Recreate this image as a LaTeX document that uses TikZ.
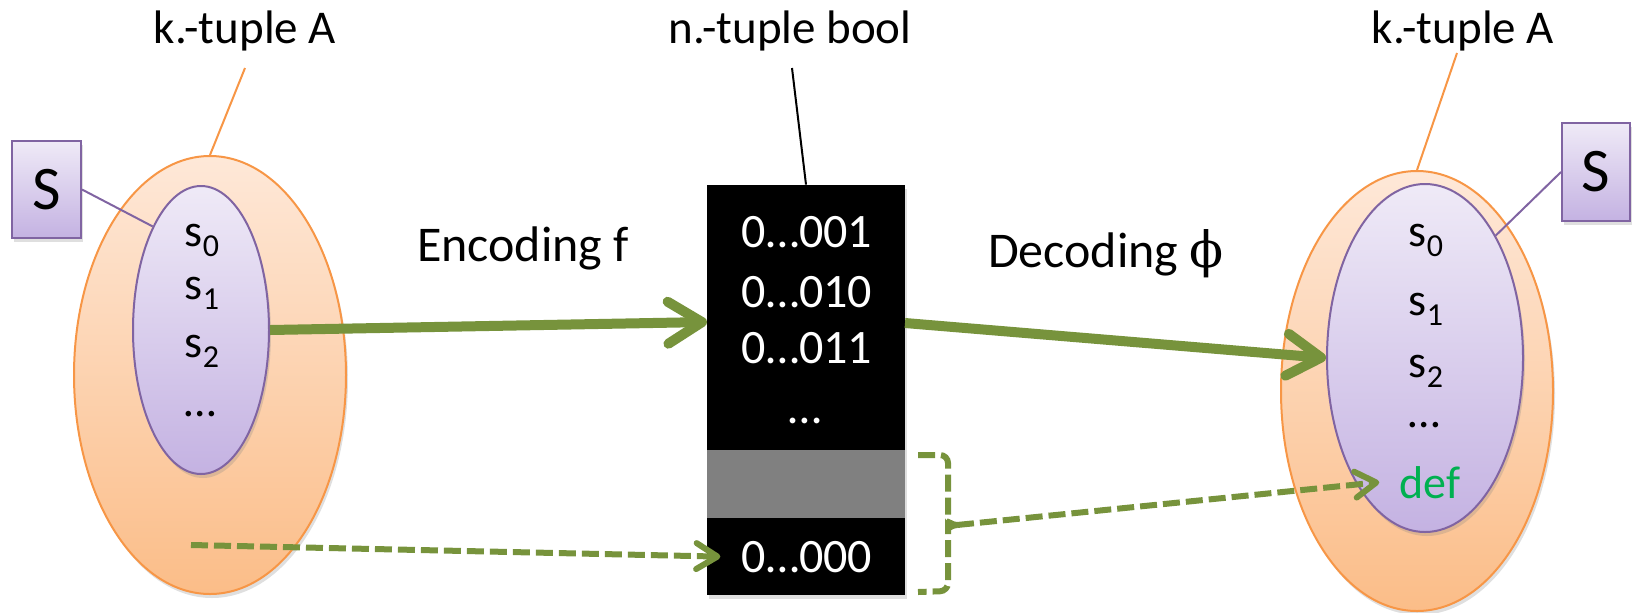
\documentclass[tikz,border=0pt]{standalone}
\usepackage{fontspec}
\setmainfont{Carlito}
\newfontfamily\phifont{DejaVu Serif}
\usetikzlibrary{arrows.meta,shapes.geometric,shadows}
\definecolor{orangeline}{HTML}{F79646}
\definecolor{orangetop}{HTML}{FEE8D8}
\definecolor{orangebot}{HTML}{FBBD88}
\definecolor{purpline}{HTML}{8064A2}
\definecolor{purptop}{HTML}{EFEAF7}
\definecolor{purpbot}{HTML}{C4B2E2}
\definecolor{arrgreen}{HTML}{77933C}
\definecolor{defgreen}{HTML}{00B050}
\definecolor{bandgray}{HTML}{808080}
\newcommand{\mysub}[1]{\raisebox{-5pt}{\fontsize{16}{16}\selectfont #1}}
\tikzset{
  softshadow/.style={drop shadow={opacity=0.25,shadow xshift=1pt,shadow yshift=-2pt}},
  outerell/.style={ellipse,inner sep=0pt,draw=orangeline,line width=1pt,
    top color=orangetop,bottom color=orangebot,softshadow},
  innerell/.style={ellipse,inner sep=0pt,draw=purpline,line width=1pt,
    top color=purptop,bottom color=purpbot,softshadow},
  sbox/.style={rectangle,inner sep=0pt,draw=purpline,line width=1pt,
    top color=purptop,bottom color=purpbot,softshadow,
    font=\fontsize{31}{36}\selectfont},
  lbl/.style={inner sep=0pt,anchor=base,font=\fontsize{23.5}{28}\selectfont},
  biglbl/.style={inner sep=0pt,anchor=base,font=\fontsize{25}{30}\selectfont},
  numlbl/.style={inner sep=0pt,anchor=base,text=white,font=\fontsize{24}{29}\selectfont},
  elem/.style={inner sep=0pt,anchor=base,font=\fontsize{23}{28}\selectfont},
  leaderorange/.style={draw=orangeline,line width=1pt},
  leaderpurple/.style={draw=purpline,line width=1pt},
  bigarrow/.style={draw=arrgreen,line width=5pt,
    -{Straight Barb[length=17pt,width=21pt,round]}},
  dasharrow/.style={draw=arrgreen,line width=3pt,dash pattern=on 8.5pt off 3pt,
    -{Straight Barb[length=10.5pt,width=13pt,round]}},
  dashline/.style={draw=arrgreen,line width=3pt,dash pattern=on 8.5pt off 3pt}
}
\begin{document}
\begin{tikzpicture}[x=0.5pt,y=-0.5pt]
\useasboundingbox (0,0) rectangle (1632,612);

% ---- left set ----
\node[outerell,minimum width=136pt,minimum height=219pt] (outerL) at (210,375) {};
\node[innerell,minimum width=68pt,minimum height=144pt] (innerL) at (201,330) {};
\node[sbox,minimum width=34.5pt,minimum height=48.5pt] (SL) at (46.5,189.5) {S};
\node[lbl] (kL) at (245,43) {k.-tuple A};
\coordinate (kLt) at (245,68);
\draw[leaderorange] (kLt) -- (outerL.north);
\draw[leaderpurple] (SL.east) -- (innerL.115);
\node[elem] (sL0) at (202,246) {s\mysub{0}};
\node[elem] (sL1) at (202,299) {s\mysub{1}};
\node[elem] (sL2) at (202,357) {s\mysub{2}};
\node[elem] (sL3) at (200,416) {…};

% ---- middle table ----
\node[rectangle,fill=black,minimum width=99pt,minimum height=205pt,inner sep=0pt,
  softshadow] (box) at (806,390) {};
\node[rectangle,fill=bandgray,minimum width=99pt,minimum height=34pt,inner sep=0pt]
  (band) at (806,484) {};
\node[lbl] (nb) at (790,43) {n.-tuple bool};
\coordinate (nbt) at (792,68);
\draw[black,line width=1pt] (nbt) -- (box.north);
\node[numlbl] (n1) at (807,247) {0…001};
\node[numlbl] (n2) at (807,307) {0…010};
\node[numlbl] (n3) at (807,363) {0…011};
\node[numlbl] (n4) at (805,423) {…};
\node[numlbl,inner xsep=10.5pt] (n0) at (807,572) {0…000};

% ---- right set ----
\node[outerell,minimum width=136pt,minimum height=220pt] (outerR) at (1417,391) {};
\node[innerell,minimum width=98pt,minimum height=174pt] (innerR) at (1425,358) {};
\node[sbox,minimum width=34pt,minimum height=49pt] (SR) at (1596,172) {S};
\node[lbl] (kR) at (1463,43) {k.-tuple A};
\coordinate (kRt) at (1457,53);
\draw[leaderorange] (kRt) -- (outerR.north);
\draw[leaderpurple] (SR.west) -- (innerR.60);
\node[elem] (sR0) at (1426,246) {s\mysub{0}};
\node[elem] (sR1) at (1426,315) {s\mysub{1}};
\node[elem] (sR2) at (1426,377) {s\mysub{2}};
\node[elem] (sR3) at (1424,427) {…};
\node[elem,text=defgreen,inner xsep=10pt] (def) at (1430,498) {def};

% ---- labels ----
\node[biglbl] (enc) at (523,261) {Encoding f};
\node[biglbl] (dec) at (1106,267) {Decoding {\phifont ϕ}};

% ---- connectors ----
\coordinate (encT) at (707,322);
\draw[bigarrow] (innerL.east) -- (encT);
\coordinate (decS) at (905,323);
\draw[bigarrow] (decS) -- (innerR.west);

\coordinate (dashS) at (191,545);
\draw[dasharrow] (dashS) -- (n0.west);

% bracket
\coordinate (brk) at (957,525);
\draw[dashline,rounded corners=4pt] (918,455) -- (948,455) -- (948,515)
  to[out=-90,in=180] (brk);
\draw[dashline,rounded corners=4pt] (brk) to[out=180,in=90] (948,535)
  -- (948,591) -- (918,592);
\draw[dasharrow] (brk) -- (def.west);
\end{tikzpicture}
\end{document}
